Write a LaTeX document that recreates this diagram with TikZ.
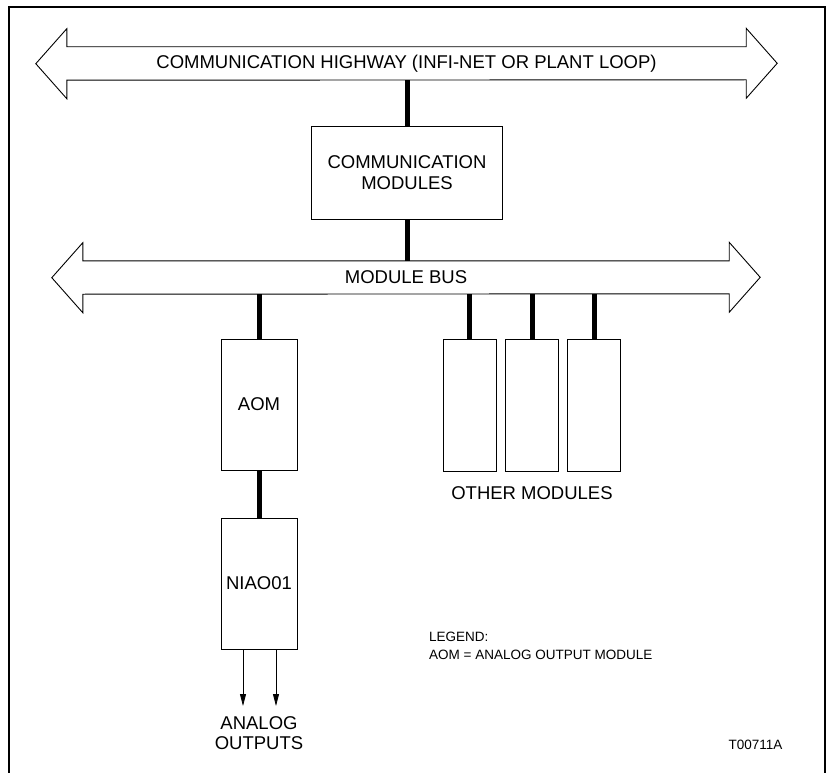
\documentclass[tikz,border=0pt]{standalone}
\usepackage{fontspec}
\setmainfont{Liberation Sans}
\usetikzlibrary{arrows.meta}

\tikzset{
    module/.style = {draw, line width=0.9pt, inner sep=0pt, align=center,
                     font=\fontsize{18.5}{21}\selectfont},
    bus/.style = {inner sep=0pt, minimum height=33pt,
                  font=\fontsize{18.5}{21}\selectfont},
    busedge/.style = {line width=0.9pt, line join=miter},
    link/.style = {line width=5pt},
    signal/.style = {line width=0.8pt, -{Stealth[length=12pt,width=6pt,inset=0pt]}},
    label/.style = {inner sep=0pt, align=center, font=\fontsize{18.5}{20}\selectfont}
}

% outline of a two-headed bus arrow round its shaft node
\newcommand{\busoutline}[1]{
    \draw[busedge] (#1.north west) -- (#1.north east) -- ++(0,-18.5) -- ++(31,35)
        -- ++(-31,35) -- ++(0,-18.5) -- (#1.south west) -- ++(0,18.5)
        -- ++(-31,-35) -- ++(31,-35) -- cycle;
}

\begin{document}
\begin{tikzpicture}[x=1pt,y=-1pt]
    \useasboundingbox (0,0) rectangle (830,773);
    \draw[line width=2pt] (9,773) -- (9,7) -- (825,7) -- (825,773);

    % highways
    \node [bus, minimum width=679pt] (hwy) at (406.5,63.5)
        {COMMUNICATION HIGHWAY (INFI-NET OR PLANT LOOP)};
    \busoutline{hwy}
    \node [bus, minimum width=646pt] (mbus) at (406,277.5) {MODULE BUS};
    \busoutline{mbus}

    % modules
    \node [module, minimum width=191pt, minimum height=93pt] (comm) at (407,172.5)
        {COMMUNICATION\\MODULES};
    \node [module, minimum width=76pt, minimum height=131pt] (aom) at (259,404.5) {AOM};
    \node [module, minimum width=76pt, minimum height=131pt] (niao) at (259,583.5) {NIAO01};
    \node [module, minimum width=53pt, minimum height=132pt] (other1) at (469.5,405) {};
    \node [module, minimum width=53pt, minimum height=132pt] (other2) at (532,405) {};
    \node [module, minimum width=53pt, minimum height=132pt] (other3) at (594,405) {};

    \draw[link] (hwy.south -| comm) -- (comm.north);
    \draw[link] (comm.south) -- (mbus.north -| comm);
    \draw[link] (mbus.south -| aom) -- (aom.north);
    \draw[link] (aom.south) -- (niao.north);
    \foreach \m in {other1,other2,other3}
        \draw[link] (mbus.south -| \m) -- (\m.north);

    % outputs
    \coordinate (out1) at (243,706);
    \coordinate (out2) at (276,706);
    \draw[signal] (niao.south -| out1) -- (out1);
    \draw[signal] (niao.south -| out2) -- (out2);

    \node [label] (outs) at (259,733) {ANALOG\\OUTPUTS};
    \node [label] (others) at (532,493) {OTHER MODULES};
    \node [inner sep=0pt, align=left, anchor=west, font=\fontsize{13.5}{18}\selectfont]
        (legend) at (429,646) {LEGEND:\\AOM = ANALOG OUTPUT MODULE};
    \node [inner sep=0pt, font=\fontsize{13.5}{16}\selectfont] (fig) at (755.5,745) {T00711A};
\end{tikzpicture}
\end{document}
